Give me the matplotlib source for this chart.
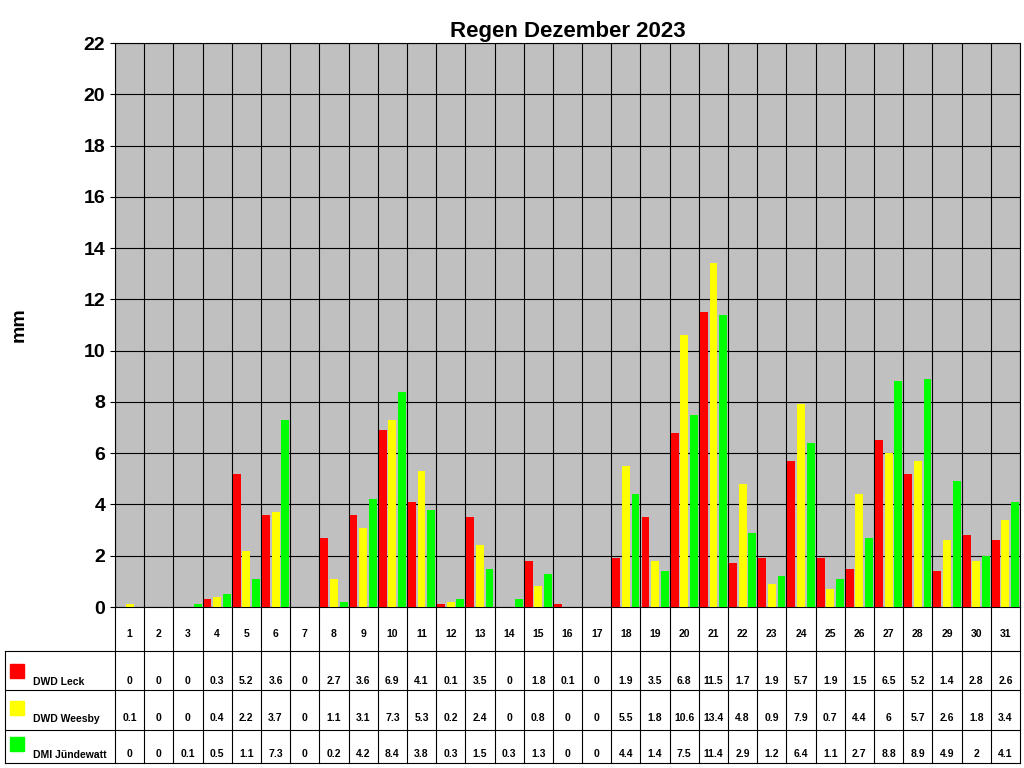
import matplotlib
matplotlib.use("Agg")
import matplotlib.pyplot as plt
import numpy as np

plt.rcParams['font.family'] = ['Liberation Sans', 'DejaVu Sans']

days = list(range(1, 32))
leck = [0,0,0,0.3,5.2,3.6,0,2.7,3.6,6.9,4.1,0.1,3.5,0,1.8,0.1,0,1.9,3.5,6.8,11.5,1.7,1.9,5.7,1.9,1.5,6.5,5.2,1.4,2.8,2.6]
weesby = [0.1,0,0,0.4,2.2,3.7,0,1.1,3.1,7.3,5.3,0.2,2.4,0,0.8,0,0,5.5,1.8,10.6,13.4,4.8,0.9,7.9,0.7,4.4,6,5.7,2.6,1.8,3.4]
juende = [0,0,0.1,0.5,1.1,7.3,0,0.2,4.2,8.4,3.8,0.3,1.5,0.3,1.3,0,0,4.4,1.4,7.5,11.4,2.9,1.2,6.4,1.1,2.7,8.8,8.9,4.9,2,4.1]
names = ["DWD Leck", "DWD Weesby", "DMI Jündewatt"]
colors = ["#FF0000", "#FFFF00", "#00FF00"]
series = [leck, weesby, juende]

W, H = 1024, 768
fig = plt.figure(figsize=(W/100, H/100), dpi=100)
L, R, T, B = 115, 1020, 43, 607
ax = fig.add_axes([L/W, 1-B/H, (R-L)/W, (B-T)/H])
ax.set_facecolor("#C0C0C0")
x = np.arange(31)
sp = 0.33
for i, (s, c) in enumerate(zip(series, colors)):
    ax.bar(x + (i-1)*sp, s, width=0.27, color=c, zorder=3)
ax.set_xlim(-0.5, 30.5)
ax.set_ylim(0, 22)
ax.set_yticks(range(0, 23, 2))
ax.set_yticklabels([str(v) for v in range(0, 23, 2)], fontsize=14, fontweight="bold")
ax.set_xticks([])
for v in range(0, 23, 2):
    ax.axhline(v, color="black", lw=0.8, zorder=1)
for k in range(32):
    ax.axvline(k-0.5, color="black", lw=0.8, zorder=1)
ax.set_ylabel("mm", fontsize=14, fontweight="bold", labelpad=40)
ax.set_title("Regen Dezember 2023", fontsize=16, fontweight="bold", pad=4)

# table
tb = fig.add_axes([0, 0, 1, 1], facecolor="none")
tb.set_xlim(0, W); tb.set_ylim(H, 0); tb.axis("off")
colw = (R-L)/31
rows = [607, 651, 690, 730, 763]
for k in range(32):
    xx = L + k*colw
    tb.plot([xx, xx], [607, 763], color="black", lw=0.8)
tb.plot([5, 5], [651, 763], color="black", lw=0.8)
tb.plot([L, R], [651, 651], color="black", lw=0.8)
for y in rows[2:]:
    tb.plot([5, R], [y, y], color="black", lw=0.8)
tb.plot([5, L], [651, 651], color="black", lw=0.8)
for k, d in enumerate(days):
    tb.text(L + (k+0.5)*colw, 634, str(d), ha="center", va="center", fontsize=7.5, fontweight="bold")
ys = [681, 718, 754]
for r, (s, nm, c) in enumerate(zip(series, names, colors)):
    for k, v in enumerate(s):
        tb.text(L + (k+0.5)*colw, ys[r], f"{v:g}", ha="center", va="center", fontsize=7.5, fontweight="bold")
    tb.add_patch(plt.Rectangle((10, ys[r]-17), 14, 14, color=c))
    tb.text(33, ys[r]+1, nm, ha="left", va="center", fontsize=7.5, fontweight="bold")

fig.savefig("out.png", dpi=100)
